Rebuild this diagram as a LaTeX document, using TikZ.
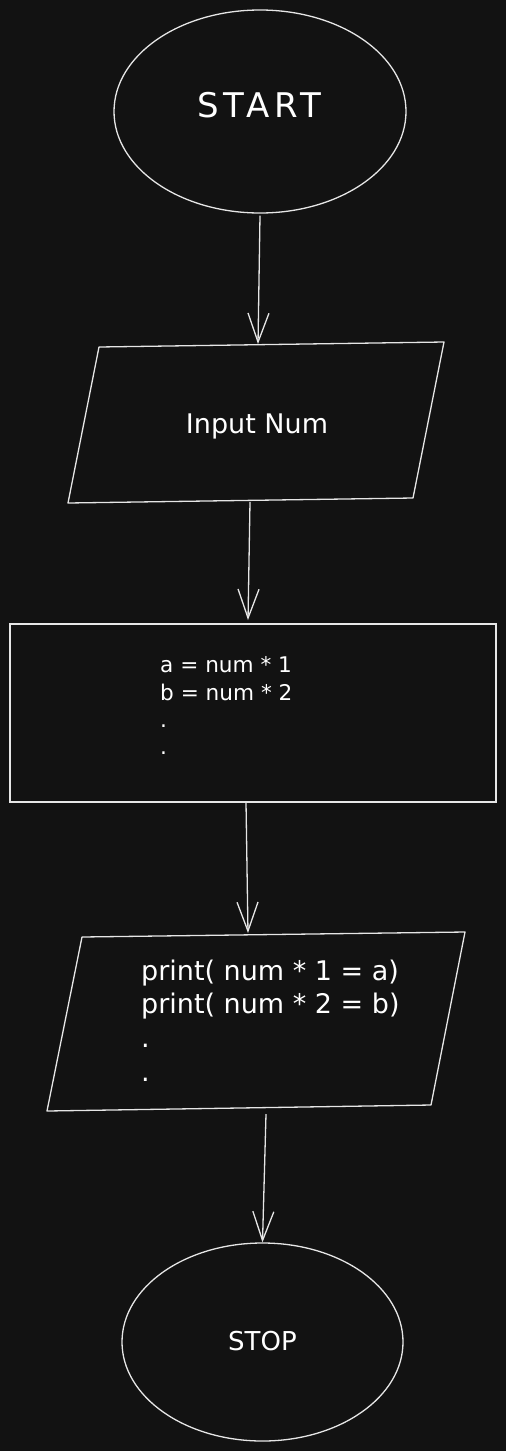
\documentclass[tikz,border=0pt]{standalone}
\usepackage{fontspec}
\setmainfont{DejaVu Sans}
\usetikzlibrary{shapes.geometric,arrows.meta}
\definecolor{bg}{HTML}{121212}
\definecolor{ink}{HTML}{E6E6E6}
\begin{document}
\begin{tikzpicture}[x=1pt,y=-1pt,
  outline/.style={draw=ink,line width=1.3pt},
  lbl/.style={text=white,inner sep=0pt},
  flow/.style={draw=ink,line width=1.3pt,-{Straight Barb[length=29pt,width=21pt]}},
]
\fill[bg] (0,0) rectangle (506,1451);
\useasboundingbox (0,0) rectangle (506,1451);

% START
\node[ellipse,outline,minimum width=292pt,minimum height=203pt,inner sep=0pt] (start) at (260,111.5) {};
\node[lbl,anchor=base,font=\fontsize{34}{40}\selectfont\addfontfeature{LetterSpace=14}] (starttxt) at (259,117) {START};

% Input parallelogram
\coordinate (in1) at (99,347);
\coordinate (in2) at (444,342);
\coordinate (in3) at (413,498);
\coordinate (in4) at (68,503);
\draw[outline,line join=round] (in1) -- (in2) -- (in3) -- (in4) -- cycle;
\coordinate (intop) at (258,344);
\coordinate (inbot) at (250,502);
\node[lbl,anchor=base,font=\fontsize{27}{33}\selectfont] (intxt) at (257,433) {Input Num};

% Calculation box
\node[rectangle,outline,minimum width=486pt,minimum height=178pt,inner sep=0pt] (calc) at (253,713) {};
\coordinate (ctop) at (248,620);
\coordinate (cbot) at (246,802);
\node[lbl,anchor=north west,align=left,font=\fontsize{21.6}{27.3}\selectfont] (calctxt) at (160,656.5) {a = num * 1\\b = num * 2\\.\\.};

% Output parallelogram
\coordinate (p1) at (82,937);
\coordinate (p2) at (465,932);
\coordinate (p3) at (431,1105);
\coordinate (p4) at (47,1111);
\draw[outline,line join=round] (p1) -- (p2) -- (p3) -- (p4) -- cycle;
\coordinate (ptop) at (248,933);
\coordinate (pbot) at (266,1114);
\node[lbl,anchor=north west,align=left,font=\fontsize{27}{33.7}\selectfont] (outtxt) at (141,959.5) {print( num * 1 = a)\\print( num * 2 = b)\\.\\.};

% STOP
\node[ellipse,outline,minimum width=281pt,minimum height=198pt,inner sep=0pt] (stop) at (262.5,1342) {};
\node[lbl,anchor=base,font=\fontsize{26}{32}\selectfont] (stoptxt) at (262.5,1350) {STOP};

% connectors
\draw[flow] ([yshift=-2pt]start.south) -- (intop);
\draw[flow] (inbot) -- (ctop);
\draw[flow] (cbot) -- (ptop);
\draw[flow] (pbot) -- (stop.north);
\end{tikzpicture}
\end{document}
